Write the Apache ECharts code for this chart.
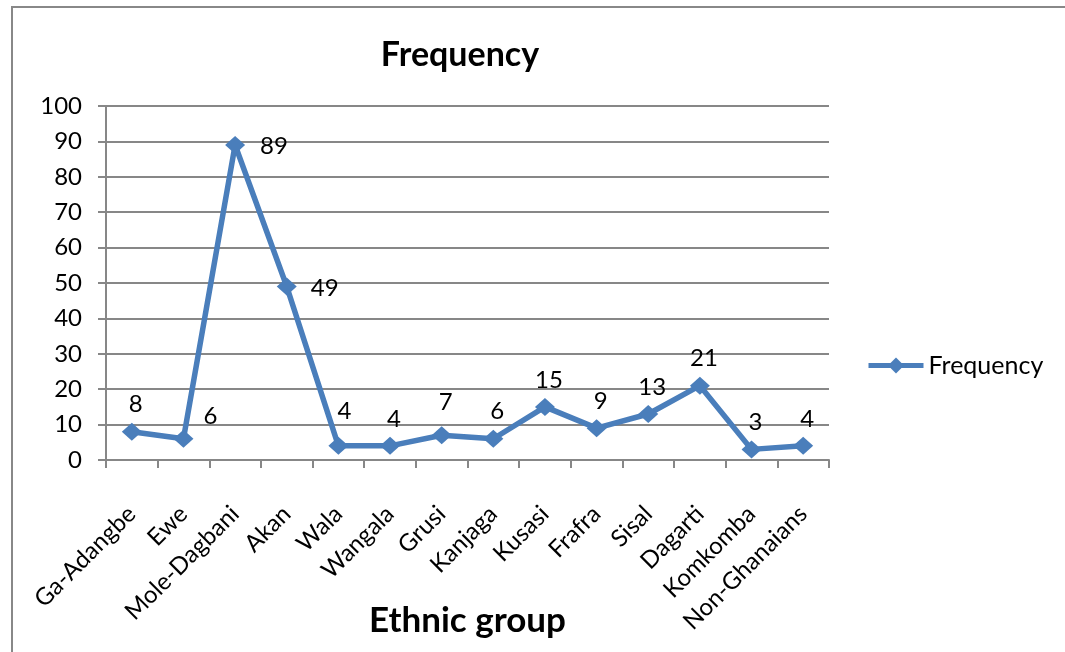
<!DOCTYPE html>
<html>
<head>
<meta charset="utf-8">
<script src="https://cdn.jsdelivr.net/npm/echarts@6/dist/echarts.min.js"></script>
<style>
  html, body { margin: 0; padding: 0; background: #fff; }
  #chart { width: 1065px; height: 652px; }
</style>
</head>
<body>
<div id="chart"></div>
<script>
// Ethnic group counts
const categories = ['Ga-Adangbe', 'Ewe', 'Mole-Dagbani', 'Akan', 'Wala', 'Wangala', 'Grusi',
  'Kanjaga', 'Kusasi', 'Frafra', 'Sisal', 'Dagarti', 'Komkomba', 'Non-Ghanaians'];
const frequency = [8, 6, 89, 49, 4, 4, 7, 6, 15, 9, 13, 21, 3, 4];
const yTicks = { min: 0, max: 100, interval: 10 };

const FONT = 'Lato, "Open Sans", sans-serif';
const BLUE = '#4a7ebb';
const GRID = '#878787';

// Per-point label placement tweaks (most labels sit just above their marker)
const labelTweaks = {
  1: { position: 'right', distance: 10, offset: [0, -22] },
  2: { position: 'right', distance: 15, offset: [0, 1] },
  3: { position: 'right', distance: 14, offset: [0, 2] },
  4: { offset: [6, -8] },
  6: { offset: [4, -6] }
};

const seriesData = frequency.map((v, i) => {
  const t = labelTweaks[i];
  return t ? { value: v, label: t } : v;
});

const chart = echarts.init(document.getElementById('chart'), null, { renderer: 'canvas' });
chart.setOption({
  animation: false,
  backgroundColor: '#fff',
  textStyle: { fontFamily: FONT },
  graphic: [{
    type: 'rect',
    shape: { x: 12, y: 7, width: 1070, height: 660 },
    style: { fill: 'none', stroke: '#888', lineWidth: 2 },
    silent: true
  }],
  title: {
    text: 'Frequency',
    left: 455, top: 33, textAlign: 'center',
    textStyle: { fontFamily: FONT, fontSize: 34, fontWeight: 'bold', color: '#000' }
  },
  legend: {
    left: 866, top: 353, padding: 0,
    itemWidth: 55, itemHeight: 20, itemGap: 6,
    lineStyle: { width: 5 },
    textStyle: { fontFamily: FONT, fontSize: 25, color: '#000' },
    data: ['Frequency']
  },
  grid: { left: 106, right: 236, top: 106, bottom: 192, containLabel: false, outerBoundsMode: 'none' },
  xAxis: {
    type: 'category',
    data: categories,
    boundaryGap: true,
    name: 'Ethnic group',
    nameLocation: 'middle',
    nameGap: 143,
    nameMoveOverlap: false,
    nameTextStyle: { fontFamily: FONT, fontSize: 35, fontWeight: 'bold', color: '#000' },
    axisLine: { lineStyle: { color: GRID, width: 2 } },
    axisTick: { show: true, alignWithLabel: false, length: 8, lineStyle: { color: GRID, width: 2 } },
    axisLabel: { rotate: 45, interval: 0, margin: 50, fontFamily: FONT, fontSize: 24, color: '#000' }
  },
  yAxis: {
    type: 'value',
    min: yTicks.min, max: yTicks.max, interval: yTicks.interval,
    axisLine: { show: true, lineStyle: { color: GRID, width: 2 } },
    axisTick: { show: true, length: 8, lineStyle: { color: GRID, width: 2 } },
    splitLine: { lineStyle: { color: GRID, width: 2 } },
    axisLabel: { margin: 24, fontFamily: FONT, fontSize: 24, color: '#000' }
  },
  series: [{
    name: 'Frequency',
    type: 'line',
    data: seriesData,
    symbol: 'diamond',
    symbolSize: [20, 18],
    lineStyle: { color: BLUE, width: 5.5 },
    itemStyle: { color: BLUE },
    label: { show: true, position: 'top', distance: 6, offset: [4, 0], fontFamily: FONT, fontSize: 24, color: '#000' }
  }]
});
</script>
</body>
</html>
